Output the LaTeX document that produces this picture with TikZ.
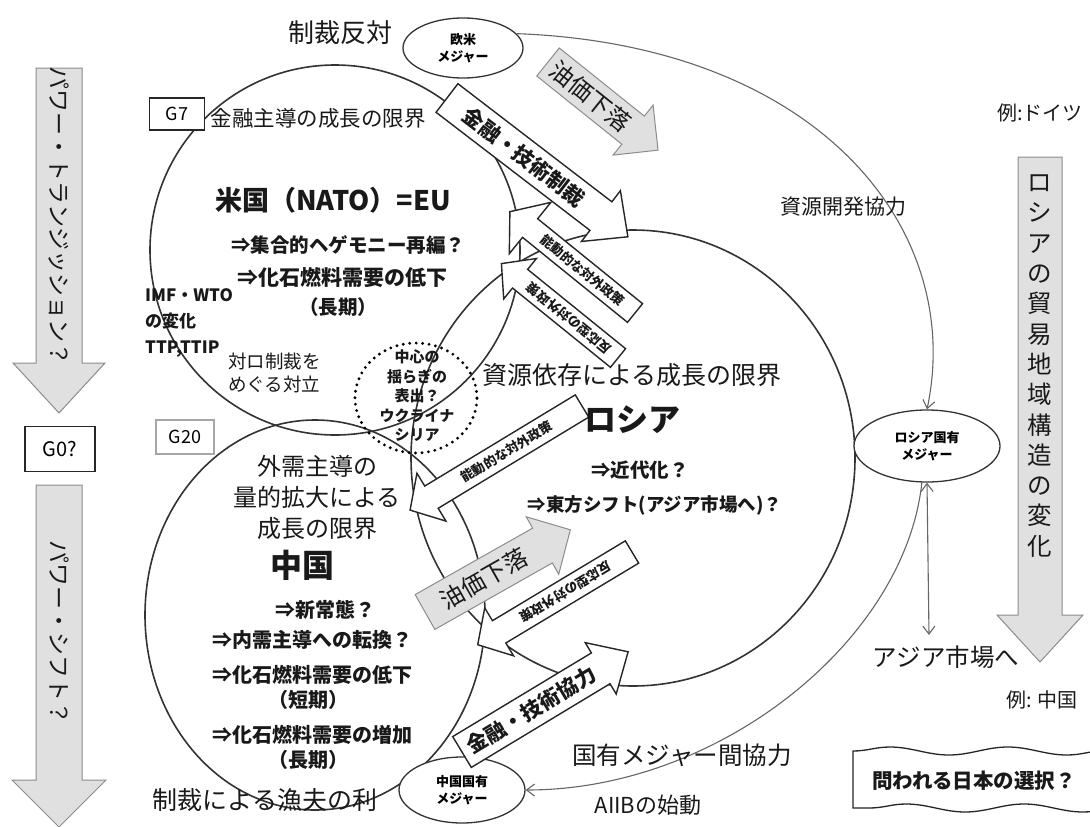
\documentclass[tikz,border=0pt]{standalone}
\usepackage{fontspec}
\setmainfont{Noto Sans CJK JP}
\usetikzlibrary{arrows.meta,decorations.pathmorphing,shapes.geometric}
\newcommand\fs[2]{\fontsize{#1}{#2}\selectfont}
\tikzset{
  circ/.style={draw=black!80, line width=1.6pt},
  conn/.style={draw=black!60, line width=1.1pt},
  tipo/.style={-{Straight Barb[length=8pt,width=12pt]}},
  wbar/.style={draw=black!85, fill=white, line width=1.4pt, line join=miter},
  gbar/.style={draw=black!45, fill=black!12, line width=1pt, line join=miter},
  tx/.style={inner sep=0pt, text=black!90, align=center},
  bx/.style={draw=black!85, line width=1.2pt, fill=white, inner sep=0pt},
  maj/.style={ellipse, draw=black!80, line width=1.3pt, fill=white, inner sep=0pt, align=center, font=\bfseries\fs{13}{17}},
}
% block arrow: style, tail, angle, length, half body, half head, head length, name, text
\newcommand\barr[9]{%
\begin{scope}[shift={#2},rotate=#3]
\draw[#1] (0,-#5) -- ({#4-#7},-#5) -- ({#4-#7},-#6) -- (#4,0) -- ({#4-#7},#6) -- ({#4-#7},#5) -- (0,#5) -- cycle;
\node[transform shape, tx] (#8) at ({(#4-#7)/2},0) {#9};
\end{scope}}
\begin{document}
\begin{tikzpicture}[x=1pt,y=1pt]
\useasboundingbox (0,0) rectangle (1090,-827);
\fill[white] (0,0) rectangle (1090,-827);

% main circles
\node[circ, ellipse, minimum width=370, minimum height=370] (us) at (335,-250) {};
\node[circ, ellipse, minimum width=444, minimum height=456] (ru) at (633,-458) {};
\node[circ, ellipse, minimum width=340, minimum height=390] (cn) at (315,-615) {};

% majors
\node[maj, minimum width=120, minimum height=60] (om) at (463,-48) {欧米\\メジャー};
\node[maj, minimum width=146, minimum height=72] (rm) at (927,-446) {ロシア国有\\メジャー};
\node[maj, minimum width=126, minimum height=66] (cm) at (462,-790) {中国国有\\メジャー};
\node[tx, font=\fs{24.5}{28}] (asia) at (946,-657) {アジア市場へ};
\coordinate (asiatop) at (929,-635);

% connectors
\draw[conn, tipo] (om.15) .. controls (820,-45) and (965,-230) .. (rm.north);
\draw[conn, {Straight Barb[length=8pt,width=12pt]}-{Straight Barb[length=8pt,width=12pt]}] (rm.south) -- (asiatop);
\draw[conn, tipo] (rm.262) .. controls (905,-640) and (720,-790) .. (cm.east);

% block arrows
\barr{gbar}{(548,-62)}{-38.7}{141}{18}{32}{32}{oil1}{\fs{24}{24}油価下落}
\barr{wbar}{(447,-98)}{-37.5}{228}{18}{32}{34}{fin}{\bfseries\fs{21}{21}金融・技術制裁}
\barr{wbar}{(618,-358)}{141}{150}{12}{26}{24}{pasv1}{\bfseries\fs{13}{13}反応型の対外政策}
\barr{wbar}{(635,-313)}{141}{161}{12}{33}{26}{actv1}{\rotatebox[origin=c]{180}{\bfseries\fs{13}{13}能動的な対外政策}}
\barr{wbar}{(582,-406)}{211.2}{201}{13}{28}{25}{actv2}{\rotatebox[origin=c]{180}{\bfseries\fs{13}{13}能動的な対外政策}}
\barr{gbar}{(425,-612)}{29.5}{167}{20}{33}{32}{oil2}{\fs{24}{24}油価下落}
\barr{wbar}{(632,-552)}{211}{180}{13}{28}{25}{pasv2}{\bfseries\fs{13}{13}反応型の対外政策}
\barr{wbar}{(462,-752)}{31.1}{194}{18}{30}{32}{coop}{\bfseries\fs{21}{21}金融・技術協力}

% big arrows
\barr{gbar}{(59,-68)}{-90}{345}{23}{46}{50}{ptrans}{\fs{23}{23}パワー・トランジッション？}
\barr{gbar}{(59,-485)}{-90}{342}{23}{47}{47}{pshift}{\fs{23}{23}パワー・シフト？}
\barr{gbar}{(1040,-157)}{-90}{505}{22}{43}{47}{rtrade}{}
\node[tx, font=\fs{24.5}{30.3}] (rtext) at (1040,-366) {ロ\\シ\\ア\\の\\貿\\易\\地\\域\\構\\造\\の\\変\\化};

% boxes
\node[bx, minimum width=70, minimum height=45, font=\fs{20}{20}] (g0) at (60,-449) {G0?};
\node[bx, minimum width=55, minimum height=32, font=\fs{18}{18}] (g7) at (177,-114) {G7};
\node[bx, draw=black!35, minimum width=58, minimum height=34, font=\fs{18}{18}] (g20) at (185,-437) {G20};

% dotted circle
\node[ellipse, draw=black, line width=3.2pt, dash pattern=on 0pt off 6.5pt, line cap=round, minimum width=122, minimum height=110] (dot) at (416,-398) {};
\node[tx, font=\bfseries\fs{15}{19.5}] (dtext) at (417,-396) {中心の\\揺らぎの\\表出？\\ウクライナ\\シリア};

% US texts
\node[tx, font=\fs{21.5}{24}] (usl) at (318,-118) {金融主導の成長の限界};
\node[tx, font=\bfseries\fs{27}{32}] (usn) at (333,-200) {米国（NATO）=EU};
\node[tx, font=\bfseries\fs{19.5}{24}] (us1) at (348,-245) {⇒集合的ヘゲモニー再編？};
\node[tx, font=\bfseries\fs{21}{24}] (us2) at (342,-278) {⇒化石燃料需要の低下};
\node[tx, font=\bfseries\fs{19.5}{24}] (us3) at (338,-307) {（長期）};
\node[tx, font=\bfseries\fs{17}{26}, align=left, anchor=west] (imf) at (145,-323) {IMF・WTO\\の変化\\TTP,TTIP};
\node[tx, font=\fs{18.5}{23}, align=left, anchor=west] (sanc) at (228,-373) {対ロ制裁を\\めぐる対立};

% Russia texts
\node[tx, font=\fs{25}{28}] (rul) at (632,-375) {資源依存による成長の限界};
\node[tx, font=\bfseries\fs{32}{36}] (run) at (632,-420) {ロシア};
\node[tx, font=\bfseries\fs{19.5}{24}] (ru1) at (640,-470) {⇒近代化？};
\node[tx, font=\bfseries\fs{18.5}{24}] (ru2) at (655,-505) {⇒東方シフト(アジア市場へ)？};

% China texts
\node[tx, font=\fs{24}{31}] (cnl) at (317,-497) {外需主導の\\量的拡大による\\成長の限界};
\node[tx, font=\bfseries\fs{32}{36}] (cnn) at (302,-565) {中国};
\node[tx, font=\bfseries\fs{20}{24}] (cn1) at (325,-610) {⇒新常態？};
\node[tx, font=\bfseries\fs{20}{24}] (cn2) at (312,-640) {⇒内需主導への転換？};
\node[tx, font=\bfseries\fs{20}{24}] (cn3) at (312,-675) {⇒化石燃料需要の低下};
\node[tx, font=\bfseries\fs{20}{24}] (cn4) at (308,-700) {（短期）};
\node[tx, font=\bfseries\fs{20}{24}] (cn5) at (312,-735) {⇒化石燃料需要の増加};
\node[tx, font=\bfseries\fs{20}{24}] (cn6) at (308,-760) {（長期）};

% outside texts
\node[tx, font=\fs{26}{28}] (hantai) at (340,-33) {制裁反対};
\node[tx, font=\fs{21}{26}] (kaihatsu) at (843,-207) {資源開発協力};
\node[tx, font=\fs{24.5}{28}] (kanky) at (682,-755) {国有メジャー間協力};
\node[tx, font=\fs{22}{26}] (aiib) at (648,-805) {AIIBの始動};
\node[tx, font=\fs{25}{30}] (gyofu) at (265,-800) {制裁による漁夫の利};
\node[tx, font=\fs{20}{24}] (de) at (1040,-113) {例:ドイツ};
\node[tx, font=\fs{20}{24}] (zh) at (1042,-700) {例: 中国};

% wavy box
\draw[draw=black!85, line width=1.3pt, fill=white]
  (853,-808) -- (853,-751)
  decorate[decoration={snake, segment length=118, amplitude=4}] {-- (1120,-751)}
  -- (1120,-808)
  decorate[decoration={snake, segment length=118, amplitude=4}] {-- (853,-808)} -- cycle;
\node[tx, font=\bfseries\fs{20.5}{22}] (japan) at (974,-781) {問われる日本の選択？};
\end{tikzpicture}
\end{document}
